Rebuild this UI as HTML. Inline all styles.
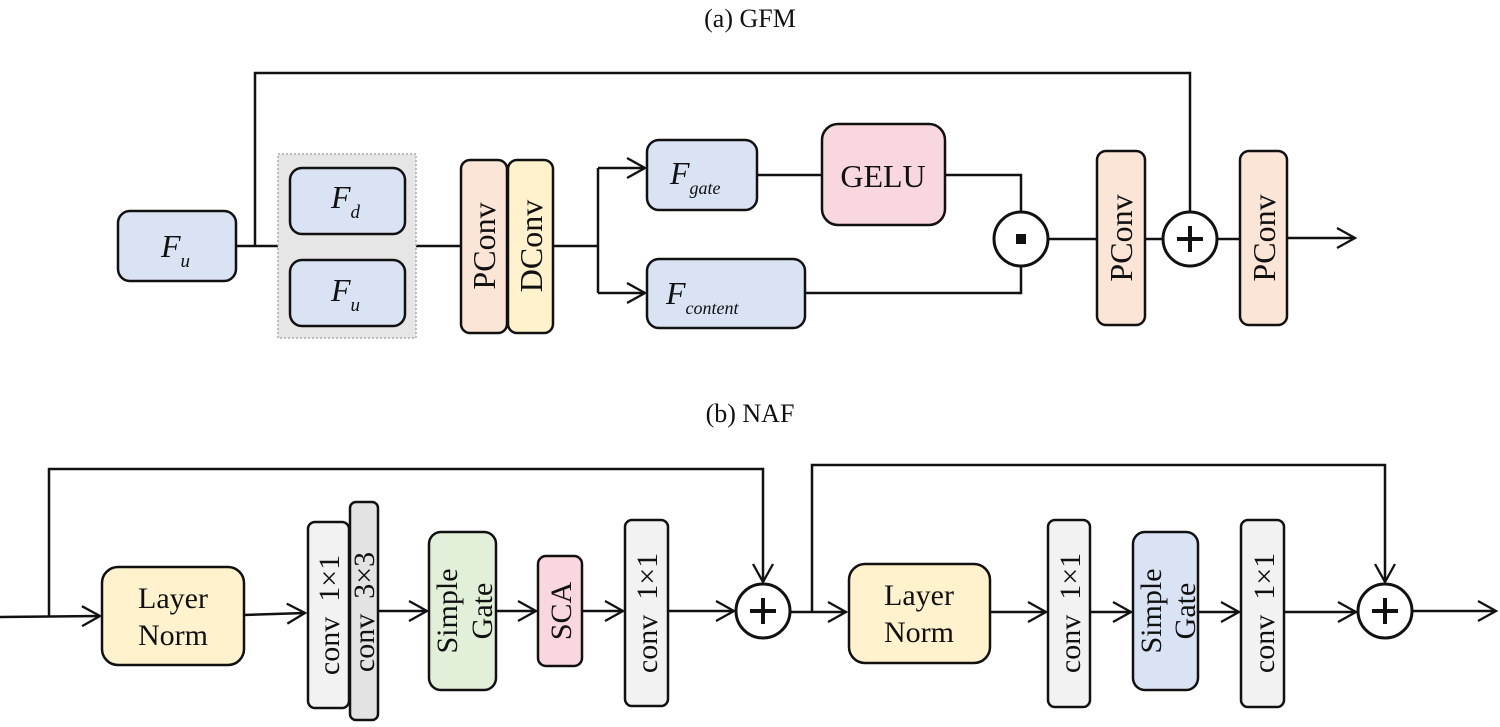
<!DOCTYPE html>
<html><head><meta charset="utf-8"><style>
html,body{margin:0;padding:0;background:#fff;}
svg{display:block;}
text{font-family:"Liberation Serif",serif;fill:#111;}
</style></head><body>
<svg width="1500" height="727" viewBox="0 0 1500 727" xmlns="http://www.w3.org/2000/svg">
<defs>
<marker id="ar" markerWidth="26" markerHeight="26" refX="22" refY="13" orient="auto" markerUnits="userSpaceOnUse">
<path d="M4,3 L22,13 L4,23" fill="none" stroke="#111" stroke-width="2.3"/>
</marker>
</defs>
<g stroke="#111" stroke-width="2.5" fill="none">
<polyline points="255,246 255,73 1190,73 1190,212"/>
<line x1="236" y1="246" x2="278" y2="246"/>
<line x1="416" y1="246" x2="460" y2="246"/>
<polyline points="553,246 598,246"/>
<polyline points="598,168 598,293"/>
<line x1="598" y1="168" x2="645" y2="168" marker-end="url(#ar)"/>
<line x1="598" y1="293" x2="645" y2="293" marker-end="url(#ar)"/>
<line x1="757" y1="175" x2="822" y2="175"/>
<polyline points="945,175 1021,175 1021,212"/>
<polyline points="805,293 1021,293 1021,266"/>
<line x1="1048" y1="239" x2="1097" y2="239"/>
<line x1="1145" y1="239" x2="1163" y2="239"/>
<line x1="1217" y1="239" x2="1240" y2="239"/>
<line x1="1287" y1="238" x2="1355" y2="238" marker-end="url(#ar)"/>
<polyline points="49,616 49,469 763,469 763,582" marker-end="url(#ar)"/>
<line x1="0" y1="617" x2="100" y2="616" marker-end="url(#ar)"/>
<line x1="244" y1="615" x2="305" y2="613" marker-end="url(#ar)"/>
<line x1="378" y1="611" x2="427" y2="611" marker-end="url(#ar)"/>
<line x1="496" y1="611" x2="536" y2="611" marker-end="url(#ar)"/>
<line x1="582" y1="611" x2="623" y2="611" marker-end="url(#ar)"/>
<line x1="668" y1="611" x2="734" y2="611" marker-end="url(#ar)"/>
<line x1="791" y1="612" x2="846" y2="612" marker-end="url(#ar)"/>
<polyline points="812,612 812,465 1385,465 1385,582" marker-end="url(#ar)"/>
<line x1="990" y1="612" x2="1046" y2="612" marker-end="url(#ar)"/>
<line x1="1090" y1="612" x2="1131" y2="612" marker-end="url(#ar)"/>
<line x1="1198" y1="612" x2="1239" y2="612" marker-end="url(#ar)"/>
<line x1="1284" y1="612" x2="1356" y2="612" marker-end="url(#ar)"/>
<line x1="1413" y1="611" x2="1496" y2="611" marker-end="url(#ar)"/>
</g>
<g stroke="#111" stroke-width="2.5">
<rect x="118" y="211" width="118" height="70" rx="12" fill="#dae3f3"/>
<rect x="278" y="154" width="138" height="184" fill="#e6e6e6" stroke="#aaa" stroke-width="1.5" stroke-dasharray="2,2"/>
<rect x="290" y="168" width="115" height="66" rx="12" fill="#dae3f3"/>
<rect x="290" y="260" width="115" height="66" rx="12" fill="#dae3f3"/>
<rect x="461" y="160" width="46" height="173" rx="9" fill="#fbe5d6"/>
<rect x="508" y="160" width="45" height="173" rx="9" fill="#fff2cc"/>
<rect x="647" y="140" width="110" height="70" rx="12" fill="#dae3f3"/>
<rect x="647" y="259" width="158" height="69" rx="12" fill="#dae3f3"/>
<rect x="822" y="124" width="123" height="101" rx="16" fill="#f8d7de"/>
<circle cx="1021" cy="239" r="27" fill="#fff" stroke-width="3"/>
<rect x="1097" y="151" width="48" height="174" rx="9" fill="#fbe5d6"/>
<circle cx="1190" cy="239" r="27" fill="#fff" stroke-width="3"/>
<rect x="1240" y="151" width="47" height="174" rx="9" fill="#fbe5d6"/>
</g>
<rect x="1016" y="234" width="10" height="10" fill="#111"/>
<g stroke="#111" stroke-width="4"><line x1="1177" y1="239" x2="1203" y2="239"/><line x1="1190" y1="226" x2="1190" y2="252"/></g>
<g stroke="#111" stroke-width="2.5">
<rect x="102" y="567" width="142" height="98" rx="16" fill="#fff2cc"/>
<rect x="350" y="502" width="28" height="218" rx="6" fill="#e3e3e3"/>
<rect x="308" y="522" width="41" height="186" rx="7" fill="#f2f2f2"/>
<rect x="429" y="532" width="67" height="158" rx="12" fill="#e2f0d9"/>
<rect x="538" y="556" width="44" height="110" rx="8" fill="#f8d7de"/>
<rect x="625" y="520" width="43" height="186" rx="7" fill="#f2f2f2"/>
<circle cx="763" cy="611" r="27" fill="#fff" stroke-width="3"/>
<rect x="849" y="564" width="141" height="99" rx="16" fill="#fff2cc"/>
<rect x="1048" y="520" width="42" height="187" rx="7" fill="#f2f2f2"/>
<rect x="1133" y="532" width="65" height="158" rx="12" fill="#dae3f3"/>
<rect x="1241" y="520" width="43" height="187" rx="7" fill="#f2f2f2"/>
<circle cx="1385" cy="611" r="27" fill="#fff" stroke-width="3"/>
</g>
<g stroke="#111" stroke-width="4">
<line x1="750" y1="611" x2="776" y2="611"/><line x1="763" y1="598" x2="763" y2="624"/>
<line x1="1372" y1="611" x2="1398" y2="611"/><line x1="1385" y1="598" x2="1385" y2="624"/>
</g>
<text x="750" y="27" font-size="26" text-anchor="middle">(a) GFM</text>
<text x="750" y="422" font-size="26" text-anchor="middle">(b) NAF</text>
<g font-style="italic">
<text x="161" y="257" font-size="32">F<tspan font-size="19" dy="10">u</tspan></text>
<text x="331" y="208" font-size="32">F<tspan font-size="19" dy="10">d</tspan></text>
<text x="331" y="301" font-size="32">F<tspan font-size="19" dy="10">u</tspan></text>
<text x="670" y="184" font-size="32">F<tspan font-size="18" dy="10">gate</tspan></text>
<text x="666" y="304" font-size="32">F<tspan font-size="18" dy="10">content</tspan></text>
</g>
<text x="883" y="187" font-size="32" text-anchor="middle">GELU</text>
<text transform="translate(495,246) rotate(-90)" font-size="32" text-anchor="middle">PConv</text>
<text transform="translate(542,246) rotate(-90)" font-size="32" text-anchor="middle">DConv</text>
<text transform="translate(1132,238) rotate(-90)" font-size="32" text-anchor="middle">PConv</text>
<text transform="translate(1275,238) rotate(-90)" font-size="32" text-anchor="middle">PConv</text>
<g font-size="30" text-anchor="middle">
<text x="173" y="608">Layer</text><text x="173" y="645">Norm</text>
<text x="919" y="605">Layer</text><text x="919" y="642">Norm</text>
<text transform="translate(339,615) rotate(-90)" xml:space="preserve">conv  1×1</text>
<text transform="translate(374,612) rotate(-90)" xml:space="preserve">conv  3×3</text>
<text transform="translate(457,611) rotate(-90)">Simple</text>
<text transform="translate(492,611) rotate(-90)">Gate</text>
<text transform="translate(571,611) rotate(-90)">SCA</text>
<text transform="translate(657,613) rotate(-90)" xml:space="preserve">conv  1×1</text>
<text transform="translate(1080,613) rotate(-90)" xml:space="preserve">conv  1×1</text>
<text transform="translate(1161,611) rotate(-90)">Simple</text>
<text transform="translate(1195,611) rotate(-90)">Gate</text>
<text transform="translate(1274,613) rotate(-90)" xml:space="preserve">conv  1×1</text>
</g>
</svg>
</body></html>
